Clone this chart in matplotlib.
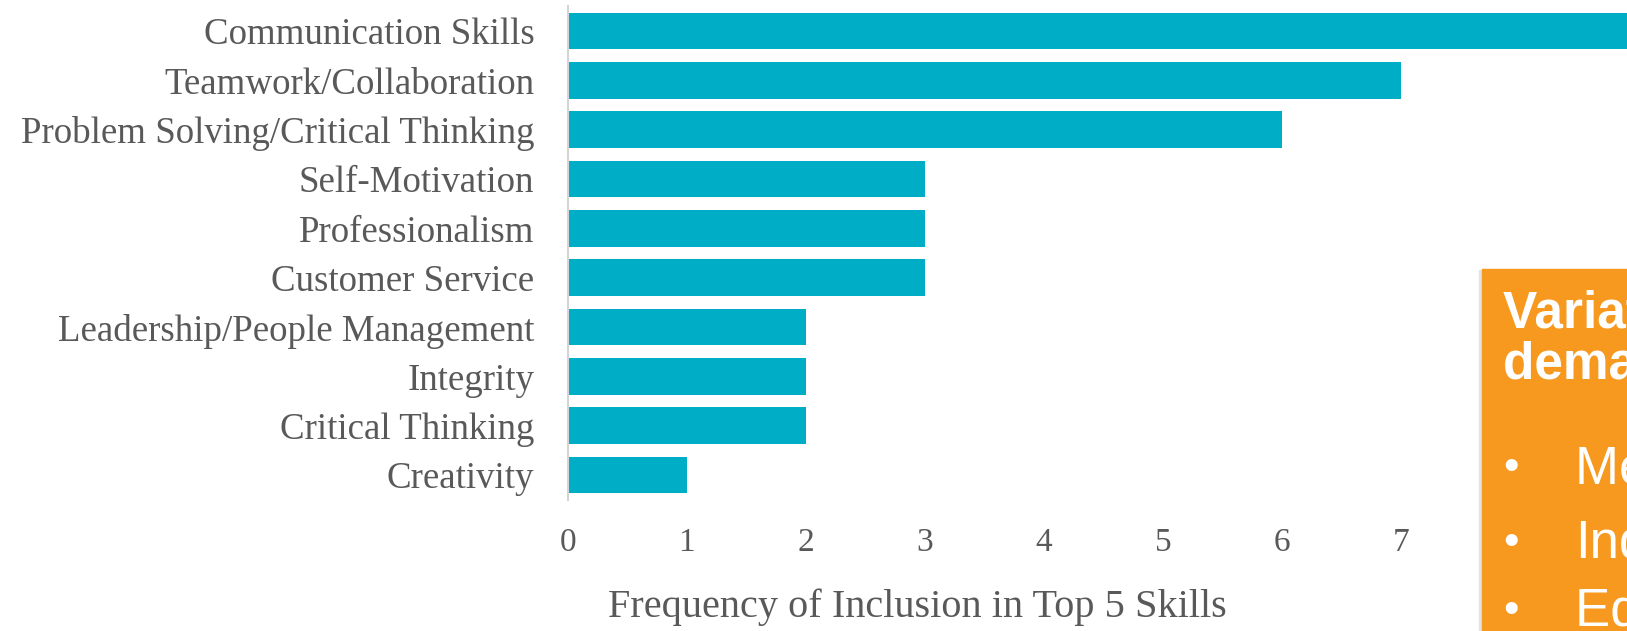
import matplotlib.pyplot as plt
from matplotlib.patches import Rectangle

skills = ["Communication Skills", "Teamwork/Collaboration",
          "Problem Solving/Critical Thinking", "Self-Motivation",
          "Professionalism", "Customer Service",
          "Leadership/People Management", "Integrity",
          "Critical Thinking", "Creativity"]
counts = [9, 7, 6, 3, 3, 3, 2, 2, 2, 1]
xticks = [0, 1, 2, 3, 4, 5, 6, 7]

box_title = ["Variation in skill", "demand by:"]
box_bullets = ["Metro area", "Industry", "Education level"]

W, H = 1627, 631
fig = plt.figure(figsize=(W / 100, H / 100), dpi=100)

# axes runs off the right side of the canvas, like the cropped slide
ax = fig.add_axes([567.6 / W, 1 - 499.7 / H, 1191 / W, 493.4 / H])
ax.barh(range(len(skills)), counts, height=0.74, color="#00ADC6")
ax.set_ylim(len(skills) - 0.5, -0.5)
ax.set_xlim(0, 10)
ax.set_yticks(range(len(skills)))
ax.set_yticklabels(skills)
ax.set_xticks(xticks)

for s in ["top", "right", "bottom"]:
    ax.spines[s].set_visible(False)
ax.spines["left"].set_color("#D4D4D4")
ax.spines["left"].set_linewidth(1.5)

ax.tick_params(axis="y", length=0, pad=24, labelsize=26.6, labelcolor="#595959")
ax.tick_params(axis="x", length=0, pad=20, labelsize=24, labelcolor="#595959")
for lab in ax.get_yticklabels() + ax.get_xticklabels():
    lab.set_fontfamily("Liberation Serif")

ax.set_xlabel("Frequency of Inclusion in Top 5 Skills", fontsize=29,
              color="#595959", family="Liberation Serif")
ax.xaxis.set_label_coords((917 - 567.6) / 1191, -(607 - 499.7) / 493.4)
ax.xaxis.label.set_va("center")

# orange call-out box, cut by the right edge
fig.patches.append(Rectangle((1479 / W, 0), 200 / W, 1 - 270 / H,
                             transform=fig.transFigure, color="#E2E2E2",
                             zorder=1))
fig.patches.append(Rectangle((1482 / W, 0), 200 / W, 1 - 269 / H,
                             transform=fig.transFigure, color="#F7981F",
                             zorder=2))

for txt, yb in zip(box_title, [328, 379]):
    fig.text(1503 / W, 1 - yb / H, txt, color="white", fontsize=37,
             fontweight="bold", family="Liberation Sans", va="baseline",
             zorder=3)
for txt, yb in zip(box_bullets, [483, 558, 626]):
    fig.text(1503 / W, 1 - (yb - 3) / H, "\u2022", color="white", fontsize=32,
             family="Liberation Sans", va="baseline", zorder=3)
    fig.text(1575 / W, 1 - yb / H, txt, color="white", fontsize=38,
             family="Liberation Sans", va="baseline", zorder=3)

fig.savefig("out.png", dpi=100)
